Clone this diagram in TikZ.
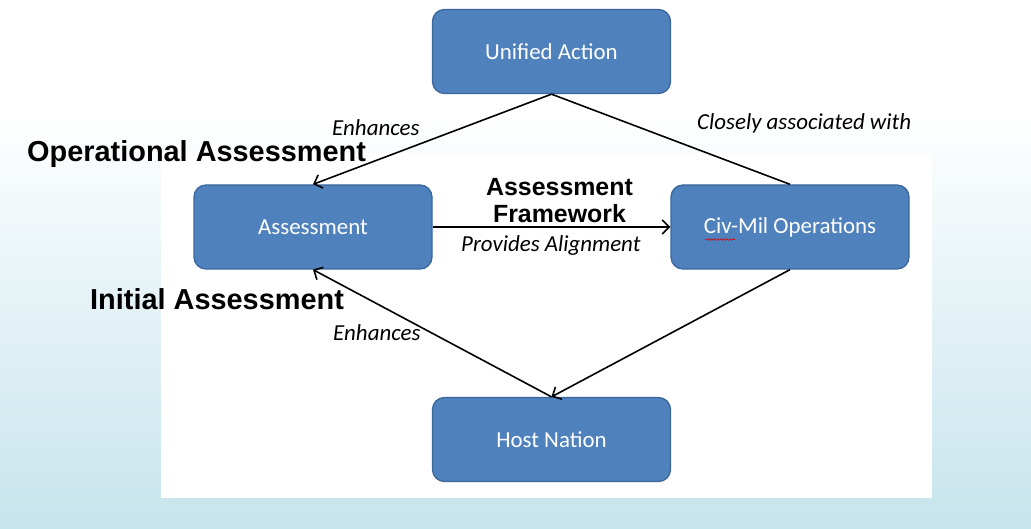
\documentclass[tikz,border=0pt]{standalone}
\usepackage{fontspec}
\setmainfont{Carlito}
\newfontfamily\arialfont{Liberation Sans}
\usetikzlibrary{arrows.meta,decorations.pathmorphing}
\definecolor{boxfill}{HTML}{4F81BD}
\definecolor{boxline}{HTML}{3A679C}
\definecolor{bgblue}{HTML}{C6E4EC}
\tikzset{
  box/.style={draw=boxline, line width=1.3bp, fill=boxfill, rounded corners=12bp,
    minimum width=238bp, minimum height=84bp, inner sep=0pt, text=white,
    font=\fontsize{23}{26}\selectfont},
  conn/.style={line width=1.6bp, draw=black},
  arr/.style={conn, -{Straight Barb[length=7bp,width=14bp,line width=1.6bp]}},
  lbl/.style={font=\fontsize{23}{26}\selectfont\itshape, text=black, inner sep=0pt, anchor=base west},
  bold/.style={font=\arialfont\bfseries\fontsize{25}{28}\selectfont, text=black, inner sep=0pt, align=center, anchor=base},
  bigbold/.style={font=\arialfont\bfseries\fontsize{29}{32}\selectfont, text=black, inner sep=0pt, anchor=base west}
}
\begin{document}
\begin{tikzpicture}[x=1bp,y=-1bp]
\useasboundingbox (0,0) rectangle (1031,529);
\fill[white] (0,0) rectangle (1031,529);
\shade[top color=white, bottom color=bgblue] (0,110) rectangle (1031,529);
\fill[white] (161,153) rectangle (932,498);

\node[box] (ua) at (551.5,51.5) {Unified Action};
\node[box] (as) at (313,227) {Assessment};
\node[box] (cm) at (790,227) {Civ-Mil Operations};
\node[box] (hn) at (551.5,439.5) {Host Nation};

\draw[arr] (ua.south) -- (as.north);
\draw[conn] (ua.south) -- (cm.north);
\draw[arr] (as.east) -- (cm.west);
\draw[arr] (cm.south) -- (hn.north);
\draw[arr] (hn.north) -- (as.south);

\coordinate (sq1) at (705,239.5);
\coordinate (sq2) at (735,239.5);
\draw[red!85!black, line width=0.6bp, decorate, decoration={snake, amplitude=0.8bp, segment length=3bp}] (sq1) -- (sq2);

\node[lbl] (l1) at (332,136) {Enhances};
\node[lbl] (l2) at (697,130) {Closely associated with};
\node[lbl] (l3) at (461,252) {Provides Alignment};
\node[lbl] (l4) at (333,341) {Enhances};
\node[bold] (l5) at (559.5,223) {Assessment\\Framework};
\node[bigbold] (l6) at (27,162) {Operational Assessment};
\node[bigbold] (l7) at (90,310) {Initial Assessment};
\end{tikzpicture}
\end{document}
